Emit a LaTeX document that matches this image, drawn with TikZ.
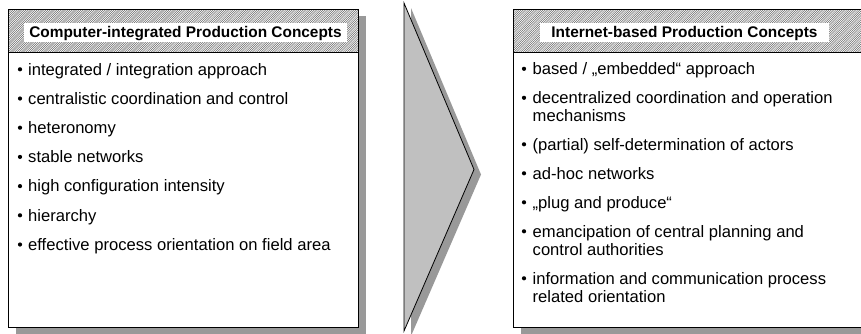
\documentclass[tikz,border=0pt]{standalone}
\usepackage{fontspec}
\setmainfont{Liberation Sans}
\usetikzlibrary{patterns}
\definecolor{shadowgray}{HTML}{999999}
\definecolor{arrowgray}{HTML}{C0C0C0}
\pgfdeclarepatternformonly{finehatch}{\pgfqpoint{-1pt}{-1pt}}{\pgfqpoint{3pt}{3pt}}{\pgfqpoint{2.2pt}{2.2pt}}{%
  \pgfsetlinewidth{0.5pt}
  \pgfpathmoveto{\pgfqpoint{0pt}{0pt}}
  \pgfpathlineto{\pgfqpoint{2.21pt}{2.21pt}}
  \pgfusepath{stroke}}
\begin{document}
\begin{tikzpicture}[x=1pt,y=-1pt,
 box/.style={draw=black, line width=0.8pt},
 hatch/.style={draw=black, line width=0.8pt, pattern=finehatch, pattern color=black!60},
 titletext/.style={font=\fontsize{15.4}{18}\selectfont\bfseries, inner sep=0pt, anchor=base},
 itemtext/.style={font=\fontsize{16.6}{18}\selectfont, inner sep=0pt, anchor=base west},
 dot/.style={circle, fill=black, inner sep=0pt, minimum size=4.2pt}
]
\clip (0,0) rectangle (861,333);
\fill[white] (0,0) rectangle (861,333);
% ---------- left box ----------
\fill[shadowgray] (16,16) rectangle (366,334);
\fill[white] (8,9) rectangle (358,327);
\draw[box] (8,9) rectangle (358,327);
\draw[hatch] (8,9) rectangle (358,52);
\fill[white] (24,23) rectangle (347,42);
\node[titletext] (lt) at (185.5,37.5) {Computer-integrated Production Concepts};
\foreach \y/\t [count=\i] in {75/{integrated / integration approach},
  104.2/{centralistic coordination and control},
  133.4/{heteronomy},
  162.6/{stable networks},
  191.8/{high configuration intensity},
  221/{hierarchy},
  250.2/{effective process orientation on field area}}{
  \node[dot] (lb\i) at (20,\y-5.7) {};
  \node[itemtext] (li\i) at (28,\y) {\t};
}
% ---------- arrow ----------
\fill[shadowgray] (411,8) -- (481,174.5) -- (411,336) -- cycle;
\draw[box, fill=arrowgray] (404,3) -- (474,169.5) -- (404,331) -- cycle;
% ---------- right box ----------
\fill[shadowgray] (521,16) rectangle (880,334);
\fill[white] (513,9) rectangle (872,327);
\draw[box] (513,9) rectangle (872,327);
\draw[hatch] (513,9) rectangle (872,52);
\fill[white] (540,23) rectangle (829,42);
\node[titletext] (rt) at (684.5,37.5) {Internet-based Production Concepts};
\foreach \y/\t [count=\i] in {74.5/{based / „embedded“ approach},
  103.5/{decentralized coordination and operation},
  150/{(partial) self-determination of actors},
  179/{ad-hoc networks},
  208/{„plug and produce“},
  237/{emancipation of central planning and},
  284/{information and communication process}}{
  \node[dot] (rb\i) at (524,\y-5.7) {};
  \node[itemtext] (ri\i) at (532.5,\y) {\t};
}
\node[itemtext] (ri2b) at (532.5,121.5) {mechanisms};
\node[itemtext] (ri6b) at (532.5,255) {control authorities};
\node[itemtext] (ri7b) at (532.5,302) {related orientation};
\end{tikzpicture}
\end{document}
